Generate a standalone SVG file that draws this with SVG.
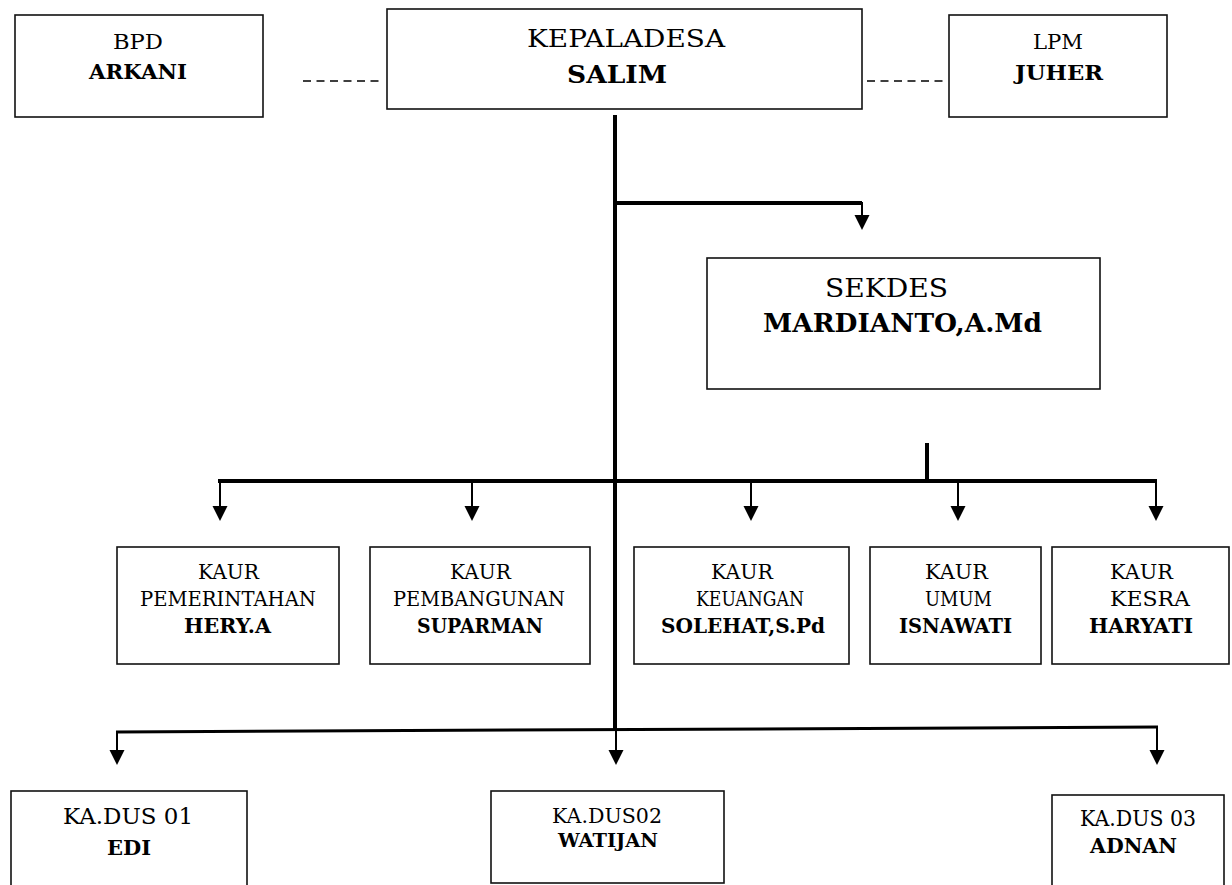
<svg xmlns="http://www.w3.org/2000/svg" width="1232" height="885" viewBox="0 0 1232 885">
<style>
.box{fill:#fff;stroke:#111;stroke-width:1.6}
.t{font-family:"DejaVu Serif","Liberation Serif",serif;fill:#000}
.b{font-weight:bold}
.thick{stroke:#000;stroke-width:4;fill:none}
.stem{stroke:#000;stroke-width:2;fill:none}
.dash{stroke:#000;stroke-width:1.5;stroke-dasharray:8 5.5;fill:none}
.head{fill:#000}
</style>
<defs>
<path id="ah" d="M-7.5,0 L7.5,0 L0,15 Z"/>
</defs>
<rect width="1232" height="885" fill="#fff"/>
<g id="connectors">
<line class="dash" x1="303" y1="81" x2="380" y2="81"/>
<line class="dash" x1="867" y1="81" x2="945" y2="81"/>
<line class="thick" x1="615" y1="115" x2="615" y2="731"/>
<polyline class="thick" points="615,203 862,203"/>
<line class="stem" x1="862" y1="202" x2="862" y2="216"/>
<use href="#ah" class="head" x="862" y="215"/>
<line class="thick" x1="927" y1="443" x2="927" y2="481"/>
<line class="thick" x1="218" y1="481" x2="1157" y2="481"/>
<line class="stem" x1="220" y1="481" x2="220" y2="507"/>
<use href="#ah" class="head" x="220" y="506"/>
<line class="stem" x1="472" y1="481" x2="472" y2="507"/>
<use href="#ah" class="head" x="472" y="506"/>
<line class="stem" x1="751" y1="481" x2="751" y2="507"/>
<use href="#ah" class="head" x="751" y="506"/>
<line class="stem" x1="958" y1="481" x2="958" y2="507"/>
<use href="#ah" class="head" x="958" y="506"/>
<line class="stem" x1="1156" y1="481" x2="1156" y2="507"/>
<use href="#ah" class="head" x="1156" y="506"/>
<line class="thick" x1="116" y1="732" x2="1158" y2="727" style="stroke-width:3"/>
<line class="stem" x1="117" y1="732" x2="117" y2="751"/>
<use href="#ah" class="head" x="117" y="750"/>
<line class="stem" x1="616" y1="729" x2="616" y2="751"/>
<use href="#ah" class="head" x="616" y="750"/>
<line class="stem" x1="1157" y1="727" x2="1157" y2="751"/>
<use href="#ah" class="head" x="1157" y="750"/>
</g>
<g id="bpd">
<rect class="box" x="15" y="15" width="248" height="102"/>
<text class="t" x="113" y="49" font-size="20" textLength="50" lengthAdjust="spacingAndGlyphs">BPD</text>
<text class="t b" x="89" y="79" font-size="20" textLength="98" lengthAdjust="spacingAndGlyphs">ARKANI</text>
</g>
<g id="kepaladesa">
<rect class="box" x="387" y="9" width="475" height="100"/>
<text class="t" x="527" y="47" font-size="24" textLength="198" lengthAdjust="spacingAndGlyphs">KEPALADESA</text>
<text class="t b" x="567" y="83" font-size="24" textLength="100" lengthAdjust="spacingAndGlyphs">SALIM</text>
</g>
<g id="lpm">
<rect class="box" x="949" y="15" width="218" height="102"/>
<text class="t" x="1033" y="49" font-size="20" textLength="50" lengthAdjust="spacingAndGlyphs">LPM</text>
<text class="t b" x="1015" y="80" font-size="20" textLength="88" lengthAdjust="spacingAndGlyphs">JUHER</text>
</g>
<g id="sekdes">
<rect class="box" x="707" y="258" width="393" height="131"/>
<text class="t" x="825" y="297" font-size="26.5" textLength="123" lengthAdjust="spacingAndGlyphs">SEKDES</text>
<text class="t b" x="763" y="332" font-size="26" textLength="279" lengthAdjust="spacingAndGlyphs">MARDIANTO,A.Md</text>
</g>
<g id="kaur-pemerintahan">
<rect class="box" x="117" y="547" width="222" height="117"/>
<text class="t" x="198" y="579" font-size="20" textLength="61" lengthAdjust="spacingAndGlyphs">KAUR</text>
<text class="t" x="140" y="606" font-size="20" textLength="176" lengthAdjust="spacingAndGlyphs">PEMERINTAHAN</text>
<text class="t b" x="184" y="633" font-size="20" textLength="87" lengthAdjust="spacingAndGlyphs">HERY.A</text>
</g>
<g id="kaur-pembangunan">
<rect class="box" x="370" y="547" width="220" height="117"/>
<text class="t" x="450" y="579" font-size="20" textLength="61" lengthAdjust="spacingAndGlyphs">KAUR</text>
<text class="t" x="393" y="606" font-size="20" textLength="172" lengthAdjust="spacingAndGlyphs">PEMBANGUNAN</text>
<text class="t b" x="417" y="633" font-size="20" textLength="126" lengthAdjust="spacingAndGlyphs">SUPARMAN</text>
</g>
<g id="kaur-keuangan">
<rect class="box" x="634" y="547" width="215" height="117"/>
<text class="t" x="711" y="579" font-size="20" textLength="62" lengthAdjust="spacingAndGlyphs">KAUR</text>
<text class="t" x="696" y="606" font-size="20" textLength="108" lengthAdjust="spacingAndGlyphs">KEUANGAN</text>
<text class="t b" x="661" y="633" font-size="20" textLength="164" lengthAdjust="spacingAndGlyphs">SOLEHAT,S.Pd</text>
</g>
<g id="kaur-umum">
<rect class="box" x="870" y="547" width="171" height="117"/>
<text class="t" x="925" y="579" font-size="20" textLength="63" lengthAdjust="spacingAndGlyphs">KAUR</text>
<text class="t" x="925" y="606" font-size="20" textLength="67" lengthAdjust="spacingAndGlyphs">UMUM</text>
<text class="t b" x="899" y="633" font-size="20" textLength="113" lengthAdjust="spacingAndGlyphs">ISNAWATI</text>
</g>
<g id="kaur-kesra">
<rect class="box" x="1052" y="547" width="177" height="117"/>
<text class="t" x="1110" y="579" font-size="20" textLength="63" lengthAdjust="spacingAndGlyphs">KAUR</text>
<text class="t" x="1110" y="606" font-size="20" textLength="80" lengthAdjust="spacingAndGlyphs">KESRA</text>
<text class="t b" x="1089" y="633" font-size="20" textLength="104" lengthAdjust="spacingAndGlyphs">HARYATI</text>
</g>
<g id="kadus-01">
<rect class="box" x="11" y="791" width="236" height="100"/>
<text class="t" x="63" y="824" font-size="23" textLength="130" lengthAdjust="spacingAndGlyphs">KA.DUS 01</text>
<text class="t b" x="107" y="855" font-size="20" textLength="44" lengthAdjust="spacingAndGlyphs">EDI</text>
</g>
<g id="kadus-02">
<rect class="box" x="491" y="791" width="233" height="92"/>
<text class="t" x="552" y="823" font-size="21" textLength="110" lengthAdjust="spacingAndGlyphs">KA.DUS02</text>
<text class="t b" x="558" y="847" font-size="18.5" textLength="100" lengthAdjust="spacingAndGlyphs">WATIJAN</text>
</g>
<g id="kadus-03">
<rect class="box" x="1052" y="795" width="172" height="96"/>
<text class="t" x="1080" y="826" font-size="22" textLength="116" lengthAdjust="spacingAndGlyphs">KA.DUS 03</text>
<text class="t b" x="1090" y="853" font-size="20" textLength="87" lengthAdjust="spacingAndGlyphs">ADNAN</text>
</g>
</svg>
